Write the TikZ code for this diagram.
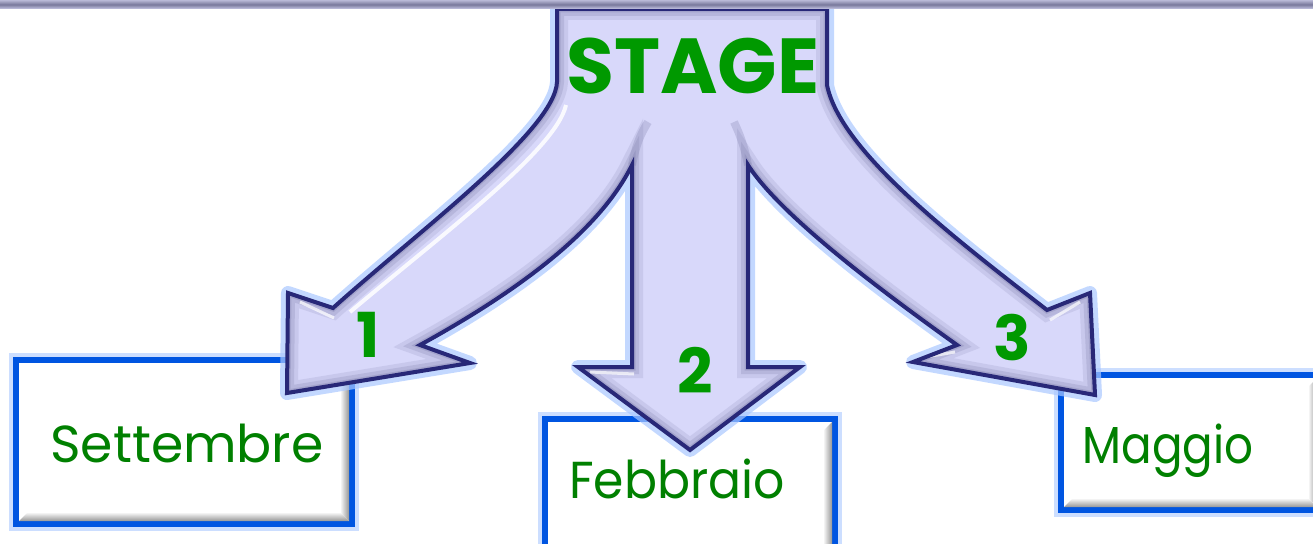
\documentclass[tikz,border=0pt]{standalone}
\usepackage{fontspec}
\setmainfont{Poppins}
\usetikzlibrary{calc}
\definecolor{lav}{RGB}{216,216,250}
\definecolor{navy}{RGB}{40,40,120}
\definecolor{glowblue}{RGB}{170,200,255}
\definecolor{boxblue}{RGB}{0,85,225}
\definecolor{stagegreen}{RGB}{0,153,0}
\definecolor{labgreen}{RGB}{0,128,0}
\definecolor{bevelc}{RGB}{130,130,175}
\definecolor{boxbevel}{RGB}{150,150,150}
\newcommand\drawmonthbox[5]{%
  \draw[glowblue, line width=14pt, opacity=.6] (#2-#4/2,#3-#5/2) rectangle (#2+#4/2,#3+#5/2);
  \node[monthbox, minimum width=#4pt, minimum height=#5pt] (#1) at (#2,#3) {};
  \path[top color=white, bottom color=boxbevel]
    (#2-#4/2+3,#3+#5/2-3) -- (#2+#4/2-3,#3+#5/2-3) -- (#2+#4/2-12,#3+#5/2-12) -- (#2-#4/2+12,#3+#5/2-12) -- cycle;
  \path[left color=white, right color=boxbevel]
    (#2+#4/2-3,#3-#5/2+3) -- (#2+#4/2-3,#3+#5/2-3) -- (#2+#4/2-12,#3+#5/2-12) -- (#2+#4/2-12,#3-#5/2+12) -- cycle;
}
\begin{document}
\begin{tikzpicture}[x=1pt,y=-1pt,
  monthbox/.style={draw=boxblue, line width=6pt, fill=white, inner sep=0pt},
  monthlabel/.style={text=labgreen, font=\fontsize{52}{56}\selectfont, anchor=base, inner sep=0pt},
  numlabel/.style={text=stagegreen, font=\bfseries\fontsize{62}{66}\selectfont, anchor=base, inner sep=0pt},
  titlelabel/.style={text=stagegreen, font=\bfseries\fontsize{78}{80}\selectfont, anchor=base, inner sep=0pt}]
\useasboundingbox (0,0) rectangle (1313,543);
\clip (0,0) rectangle (1313,543);
\fill[white] (0,0) rectangle (1313,543);

% month boxes
\drawmonthbox{sett}{184}{442}{336}{164}
\drawmonthbox{feb}{690}{489.5}{290}{141}
\drawmonthbox{mag}{1190.5}{442.5}{259}{135}

\node[monthlabel] (tsett) at (187,462) {\scalebox{1}[1]{Settembre}};
\node[monthlabel] (tfeb) at (677,498) {\scalebox{0.94}[1]{Febbraio}};
\node[monthlabel] (tmag) at (1168,463) {\scalebox{0.87}[1]{Maggio}};

% branching arrow
\path[save path=\arrowshape]
  (557,9) -- (557,82) .. controls (555,130) and (420,230) .. (333,308)
  -- (288,293) -- (287,393) -- (470,363) -- (420,345)
  .. controls (520,290) and (600,230) .. (632,165)
  -- (632,367) -- (578,367) -- (690,450) -- (800,367) -- (748,367) -- (748,165)
  .. controls (780,215) and (880,290) .. (957,345)
  -- (913,362) -- (1095,395) -- (1090,293) -- (1047,310)
  .. controls (950,235) and (840,150) .. (827,85) -- (827,9) -- cycle;

\path[use path=\arrowshape, draw=glowblue, line width=14pt, opacity=.7, line join=round];
\path[use path=\arrowshape, fill=lav];
\begin{scope}
  \path[use path=\arrowshape, clip];
  \path[use path=\arrowshape, draw=bevelc, line width=22pt, opacity=.18];
  \path[use path=\arrowshape, draw=bevelc, line width=14pt, opacity=.25];
  \path[use path=\arrowshape, draw=bevelc, line width=7pt, opacity=.35];
  \draw[white, line width=4pt, opacity=.85] (566,105) .. controls (556,150) and (440,236) .. (350,312);
  \draw[white, line width=3pt, opacity=.7] (300,302) -- (334,318);
  \draw[white, line width=3pt, opacity=.7] (590,372) -- (634,374);
  \draw[white, line width=3pt, opacity=.7] (1080,302) -- (1050,320);
  \draw[white, line width=3pt, opacity=.7] (920,358) -- (955,352);
  \draw[bevelc, line width=8pt, opacity=.3] (632,165) .. controls (636,145) and (640,135) .. (648,122);
  \draw[bevelc, line width=8pt, opacity=.3] (748,165) .. controls (744,145) and (740,135) .. (734,122);
\end{scope}
\path[use path=\arrowshape, draw=navy, line width=4pt, line join=miter];

% top bar
\path[top color={rgb,255:red,185;green,185;blue,215}, bottom color={rgb,255:red,200;green,200;blue,230}, middle color={rgb,255:red,120;green,120;blue,155}]
  (0,0) rectangle (1313,9);

% labels
\node[titlelabel] (stage) at (693,93) {STAGE};
\node[numlabel] (n1) at (368,357) {1};
\node[numlabel] (n2) at (695,393) {2};
\node[numlabel] (n3) at (1012,360) {3};
\end{tikzpicture}
\end{document}
